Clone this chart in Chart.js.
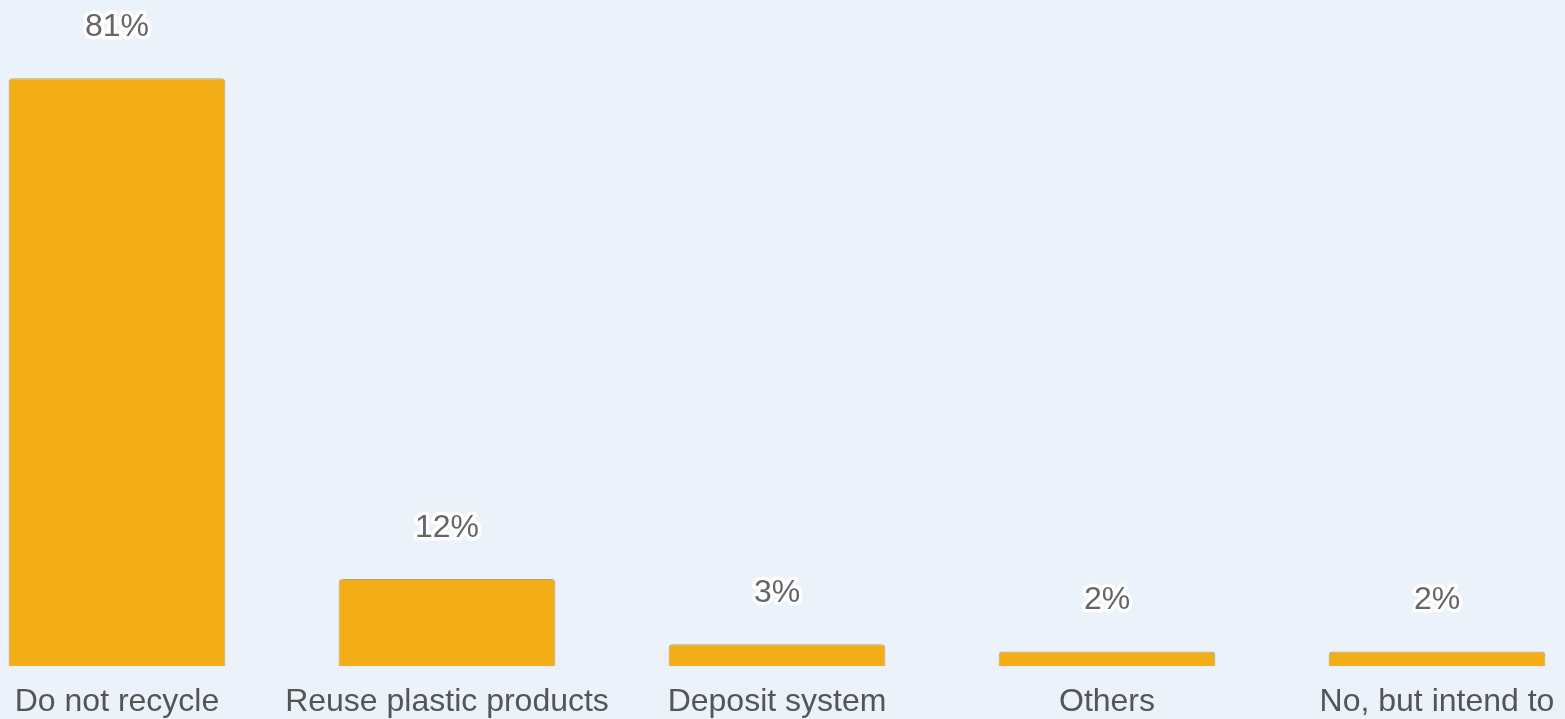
<!DOCTYPE html>
<html>
<head>
<meta charset="utf-8">
<script src="https://cdn.jsdelivr.net/npm/chart.js@4/dist/chart.umd.min.js"></script>
<style>
  html, body { margin: 0; padding: 0; background: #EBF2F9; overflow: hidden; }
  #wrap { position: absolute; left: -48px; top: 0; width: 1650px; height: 719px; }
</style>
</head>
<body>
<div id="wrap"><canvas id="c"></canvas></div>
<script>
const categories = ['Do not recycle', 'Reuse plastic products', 'Deposit system', 'Others', 'No, but intend to'];
const shares = [81, 12, 3, 2, 2];
const valueLabels = ['81%', '12%', '3%', '2%', '2%'];

// Percentage labels with a white halo, drawn above each bar
const haloLabels = {
  id: 'haloLabels',
  afterDatasetsDraw(chart) {
    const ctx = chart.ctx;
    const meta = chart.getDatasetMeta(0);
    ctx.save();
    ctx.font = '32px "Liberation Sans", Arial, sans-serif';
    ctx.textAlign = 'center';
    ctx.textBaseline = 'middle';
    ctx.lineJoin = 'round';
    meta.data.forEach((bar, i) => {
      const y = bar.y - 51;
      ctx.lineWidth = 7;
      ctx.strokeStyle = '#FFFFFF';
      ctx.strokeText(valueLabels[i], bar.x, y);
      ctx.fillStyle = '#666666';
      ctx.fillText(valueLabels[i], bar.x, y);
    });
    ctx.restore();
  }
};

new Chart(document.getElementById('c'), {
  type: 'bar',
  data: {
    labels: categories,
    datasets: [{
      data: shares,
      backgroundColor: '#F3AE17',
      borderColor: '#B5A27E',
      borderWidth: 1,
      borderRadius: { topLeft: 4, topRight: 4 },
      borderSkipped: 'bottom',
      categoryPercentage: 1,
      barPercentage: 0.657
    }]
  },
  options: {
    responsive: true,
    maintainAspectRatio: false,
    animation: false,
    layout: { padding: { top: 13, left: 0, right: 0, bottom: 0 } },
    plugins: { legend: { display: false }, tooltip: { enabled: false } },
    scales: {
      x: {
        grid: { display: false },
        border: { display: false },
        ticks: {
          color: '#555555',
          font: { family: '"Liberation Sans", Arial, sans-serif', size: 32 },
          padding: 9,
          maxRotation: 0,
          autoSkip: false
        },
        afterFit(scale) { scale.height = 53; }
      },
      y: {
        display: false,
        min: 0,
        max: 90
      }
    }
  },
  plugins: [haloLabels]
});
</script>
</body>
</html>
